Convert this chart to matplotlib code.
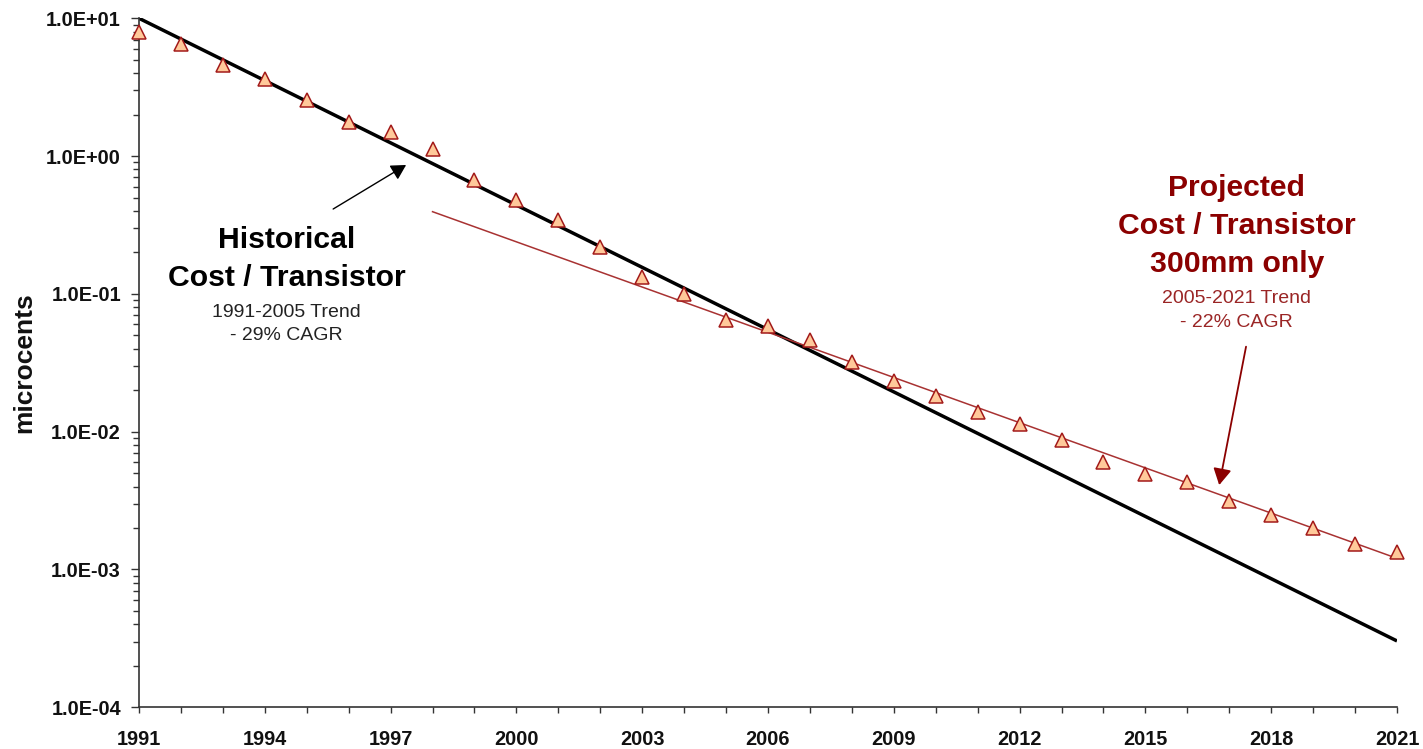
import matplotlib
matplotlib.use("Agg")
import matplotlib.pyplot as plt
from matplotlib.ticker import FixedLocator, FuncFormatter, LogLocator, NullFormatter, MultipleLocator

# Cost per transistor, microcents, by year
years = [1991, 1992, 1993, 1994, 1995, 1996, 1997, 1998, 1999, 2000,
         2001, 2002, 2003, 2004, 2005, 2006, 2007, 2008, 2009, 2010,
         2011, 2012, 2013, 2014, 2015, 2016, 2017, 2018, 2019, 2020, 2021]
cost = [7.91, 6.53, 4.58, 3.61, 2.55, 1.77, 1.50, 1.126, 0.671, 0.478,
        0.341, 0.219, 0.1326, 0.0993, 0.065, 0.0588, 0.0465, 0.0321, 0.0235, 0.0182,
        0.0139, 0.01143, 0.00873, 0.00605, 0.00494, 0.0043, 0.00313, 0.00248, 0.00201, 0.00154, 0.00135]

# Exponential trend lines (straight on a log axis), given by their end points
hist_trend_years = [1991, 2021]
hist_trend_vals = [10.0, 3.03e-4]
proj_trend_years = [1998, 2021]
proj_trend_vals = [0.395, 1.205e-3]

year_ticks = list(range(1991, 2022, 3))
decade_ticks = [1e-4, 1e-3, 1e-2, 1e-1, 1e0, 1e1]

W, H = 1423, 749
plt.rcParams['font.family'] = ['Liberation Sans', 'DejaVu Sans']
fig = plt.figure(figsize=(W / 100, H / 100), dpi=100)
ax = fig.add_axes([139 / W, 1 - 707.3 / H, (1397 - 139) / W, (707.3 - 18.3) / H])

dark_red = '#8B0000'
trend_red = '#A83232'

ax.plot(hist_trend_years, hist_trend_vals, color='black', lw=2.5, zorder=2,
        solid_capstyle='butt')
ax.plot(proj_trend_years, proj_trend_vals, color=trend_red, lw=1.1, zorder=2)
ax.plot(years, cost, linestyle='none', marker='^', ms=9.6,
        markerfacecolor='#FFC99A', markeredgecolor='#A31A1A', markeredgewidth=1.1,
        zorder=3, clip_on=False)

ax.set_yscale('log')
ax.set_xlim(1991, 2021)
ax.set_ylim(1e-4, 10)

ax.xaxis.set_major_locator(FixedLocator(year_ticks))
ax.xaxis.set_minor_locator(MultipleLocator(1))
ax.yaxis.set_major_locator(FixedLocator(decade_ticks))
ax.yaxis.set_minor_locator(LogLocator(base=10, subs=range(2, 10)))
ax.yaxis.set_minor_formatter(NullFormatter())
ax.yaxis.set_major_formatter(FuncFormatter(lambda v, p: f"{v:.1E}"))
ax.xaxis.set_major_formatter(FuncFormatter(lambda v, p: f"{int(round(v))}"))

for side in ('top', 'right'):
    ax.spines[side].set_visible(False)
for side in ('left', 'bottom'):
    ax.spines[side].set_color('#333333')
    ax.spines[side].set_linewidth(1.2)

ax.tick_params(axis='both', which='both', direction='out', color='#333333', width=1.0)
ax.tick_params(axis='y', which='major', length=5.5, pad=7.5)
ax.tick_params(axis='y', which='minor', length=4.5)
ax.tick_params(axis='x', which='both', length=4, pad=12)
for lab in ax.get_xticklabels() + ax.get_yticklabels():
    lab.set_fontsize(14.3)
    lab.set_fontweight('bold')
    lab.set_color('#111111')

fig.text(24 / W, 1 - 363 / H, 'microcents', rotation=90, ha='center', va='center',
         fontsize=19, fontweight='bold', color='#111111')


def fig_text(x, y, s, **kw):
    fig.text(x / W, 1 - y / H, s, ha='center', va='baseline', **kw)


# Historical trend callout
fig_text(286.7, 247.7, 'Historical', fontsize=21.7, fontweight='bold', color='black')
fig_text(286.7, 286.0, 'Cost / Transistor', fontsize=21.7, fontweight='bold', color='black')
fig_text(286.7, 316.7, '1991-2005 Trend', fontsize=14, color='#222222')
fig_text(286.7, 340.0, '- 29% CAGR', fontsize=14, color='#222222')

# Projected trend callout
fig_text(1236.7, 195.7, 'Projected', fontsize=21.7, fontweight='bold', color=dark_red)
fig_text(1236.7, 234.0, 'Cost / Transistor', fontsize=21.7, fontweight='bold', color=dark_red)
fig_text(1236.7, 271.7, '300mm only', fontsize=21.7, fontweight='bold', color=dark_red)
fig_text(1236.7, 302.7, '2005-2021 Trend', fontsize=14, color='#9A2525')
fig_text(1236.7, 326.7, '- 22% CAGR', fontsize=14, color='#9A2525')

ax.annotate('', xy=(1997.37, 0.862), xytext=(1995.63, 0.413),
            arrowprops=dict(arrowstyle='-|>,head_length=0.45,head_width=0.25',
                            color='black', lw=1.0,
                            mutation_scale=20, shrinkA=0, shrinkB=0))
ax.annotate('', xy=(2016.76, 0.0041), xytext=(2017.40, 0.0414),
            arrowprops=dict(arrowstyle='-|>,head_length=0.45,head_width=0.25',
                            color=dark_red, lw=1.3,
                            mutation_scale=22, shrinkA=0, shrinkB=0))

fig.savefig('out.png', dpi=100, facecolor='white')
